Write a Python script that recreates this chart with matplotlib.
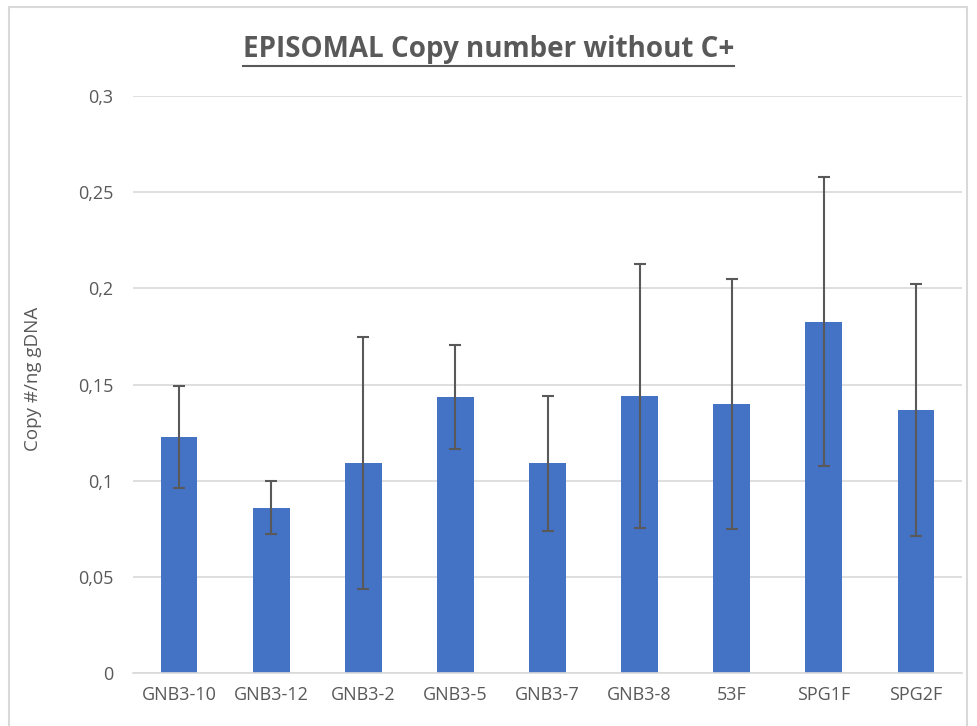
import matplotlib
matplotlib.use("Agg")
from matplotlib import pyplot as plt
from matplotlib.patches import Rectangle
from matplotlib.lines import Line2D
from matplotlib.ticker import FuncFormatter

samples = ["GNB3-10", "GNB3-12", "GNB3-2", "GNB3-5", "GNB3-7", "GNB3-8", "53F", "SPG1F", "SPG2F"]
copy_number = [0.1227, 0.0860, 0.1090, 0.1435, 0.1090, 0.1442, 0.1400, 0.1827, 0.1368]
error = [0.0265, 0.0138, 0.0655, 0.0272, 0.0350, 0.0687, 0.0650, 0.0750, 0.0655]
y_ticks = [0, 0.05, 0.1, 0.15, 0.2, 0.25, 0.3]

plt.rcParams['font.family'] = ['Open Sans', 'DejaVu Sans']
gray = "#595959"

fig = plt.figure(figsize=(9.77, 7.26), dpi=100)
fig.patches.append(Rectangle((9 / 977, -0.05), 958 / 977, 1 - 7 / 726 + 0.05,
                             transform=fig.transFigure, fill=False,
                             edgecolor="#d9d9d9", linewidth=1.5))

ax = fig.add_axes([133 / 977, 1 - 673 / 726, 829 / 977, 577 / 726])
x = range(len(samples))
ax.bar(x, copy_number, width=0.4, color="#4472c4", zorder=2)
ax.errorbar(x, copy_number, yerr=error, fmt="none", ecolor=gray,
            elinewidth=1.5, capsize=4, capthick=1.5, zorder=3)

ax.set_xlim(-0.5, len(samples) - 0.5)
ax.set_ylim(0, 0.3)
ax.set_yticks(y_ticks)
ax.yaxis.set_major_formatter(FuncFormatter(lambda v, p: "0" if v == 0 else f"{v:g}".replace(".", ",")))
ax.set_xticks(list(x))
ax.set_xticklabels(samples)
ax.grid(axis="y", color="#d9d9d9", linewidth=1.2, zorder=0)
for s in ["top", "right", "left"]:
    ax.spines[s].set_visible(False)
ax.spines["bottom"].set_color("#d9d9d9")
ax.spines["bottom"].set_linewidth(1.2)
ax.tick_params(length=0, colors=gray, labelsize=13)
ax.tick_params(axis="y", pad=14)
ax.tick_params(axis="x", pad=9)
ax.set_ylabel("Copy #/ng gDNA", color=gray, fontsize=13.5)
ax.yaxis.set_label_coords(-(133 - 42) / 829, 0.51)

title = fig.text(0.5, 1 - 50 / 726, "EPISOMAL Copy number without C+", ha="center", va="center",
                 fontsize=20, fontweight="bold", color=gray)
fig.canvas.draw()
bb = title.get_window_extent().transformed(fig.transFigure.inverted())
fig.lines.append(Line2D([bb.x0, bb.x1], [bb.y0 - 0.002, bb.y0 - 0.002], transform=fig.transFigure,
                        color=gray, linewidth=1.5))

fig.savefig("out.png", dpi=100)
